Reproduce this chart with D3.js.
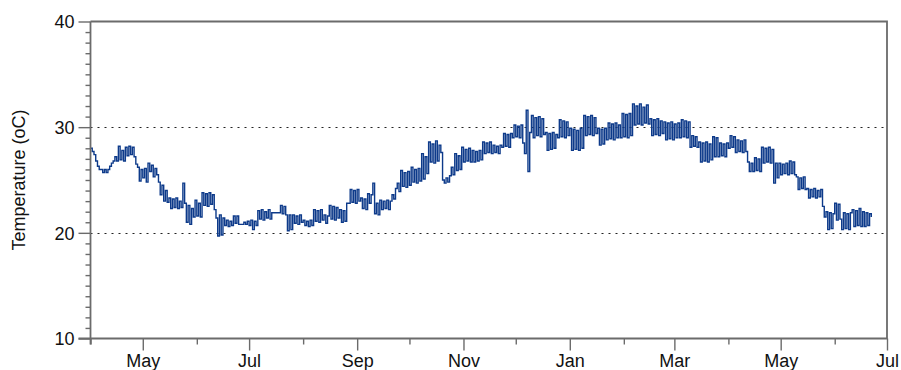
<!DOCTYPE html>
<html>
<head>
<meta charset="utf-8">
<script src="https://cdn.jsdelivr.net/npm/d3@7"></script>
<style>
  html, body { margin: 0; padding: 0; background: #fff; }
  svg { display: block; }
  text { font-family: "Liberation Sans", Arial, Helvetica, sans-serif; fill: #111; }
</style>
</head>
<body>
<svg id="chart" width="901" height="370"></svg>
<script>
// ---- data (daily readings, starting 1 Apr 2011) ----
const startDate = "2011-04-01";
const domainStart = "2011-04-01";
const domainEnd = "2012-07-01";
const temps = [
  // d0
  28.0, 27.7, 27.4, 26.8, 26.3, 26.0, 26.0, 25.7, 26.0, 25.7,
  // d10
  26.0, 26.3, 26.6, 26.8, 27.2, 26.8, 28.2, 26.9, 27.8, 26.8,
  // d20
  28.1, 27.3, 28.2, 27.4, 28.1, 27.2, 26.5, 26.2, 24.9, 26.0,
  // d30
  25.2, 26.1, 24.8, 26.6, 25.8, 26.4, 25.3, 26.1, 25.5, 24.8,
  // d40
  23.6, 24.5, 23.0, 24.0, 22.9, 23.3, 22.3, 23.2, 22.4, 23.3,
  // d50
  22.3, 23.0, 22.4, 24.7, 22.8, 21.0, 22.6, 20.8, 22.3, 21.5,
  // d60
  23.1, 21.6, 22.8, 21.5, 23.8, 22.6, 23.7, 22.5, 23.8, 22.7,
  // d70
  23.6, 22.2, 21.4, 19.7, 21.7, 19.8, 21.4, 20.7, 21.2, 20.6,
  // d80
  21.1, 20.7, 21.6, 20.9, 21.6, 20.8, 20.8, 20.8, 21.0, 20.8,
  // d90
  21.1, 20.7, 21.2, 20.3, 21.1, 20.7, 22.1, 21.3, 22.2, 21.2,
  // d100
  22.0, 21.4, 22.2, 21.3, 21.9, 21.9, 21.9, 21.9, 21.9, 22.6,
  // d110
  21.8, 22.5, 21.7, 20.2, 21.7, 20.3, 21.7, 20.9, 21.6, 20.8,
  // d120
  21.7, 21.0, 21.2, 20.7, 21.1, 20.6, 21.2, 20.7, 22.2, 21.1,
  // d130
  22.1, 21.0, 22.2, 21.2, 21.7, 20.9, 21.6, 22.6, 21.3, 22.5,
  // d140
  21.2, 22.4, 21.4, 22.2, 21.0, 22.1, 21.1, 22.8, 22.8, 24.1,
  // d150
  22.9, 24.0, 22.8, 24.1, 23.0, 23.3, 22.3, 23.2, 22.2, 23.7,
  // d160
  22.8, 23.6, 24.7, 21.8, 22.8, 21.7, 23.1, 22.2, 23.0, 22.3,
  // d170
  23.1, 22.2, 23.0, 23.6, 23.2, 24.2, 24.7, 23.9, 25.9, 24.4,
  // d180
  25.7, 24.3, 25.8, 24.5, 26.2, 24.8, 26.0, 24.7, 26.1, 24.9,
  // d190
  27.5, 25.1, 27.2, 25.6, 28.6, 26.7, 28.4, 26.6, 28.7, 26.8,
  // d200
  28.3, 27.6, 25.0, 24.7, 25.2, 24.8, 25.4, 26.2, 25.5, 27.5,
  // d210
  25.9, 27.3, 26.0, 28.1, 26.7, 27.9, 26.8, 28.0, 26.7, 27.8,
  // d220
  26.7, 27.7, 26.8, 27.8, 26.9, 28.6, 27.5, 28.5, 27.6, 28.6,
  // d230
  27.5, 28.3, 27.6, 28.2, 27.5, 28.3, 28.1, 29.4, 28.2, 29.3,
  // d240
  28.1, 29.4, 29.0, 30.2, 29.1, 30.1, 29.0, 30.2, 28.5, 27.5,
  // d250
  31.6, 25.8, 29.5, 31.1, 29.0, 30.9, 29.2, 31.0, 29.1, 30.8,
  // d260
  29.3, 29.5, 27.8, 29.4, 27.9, 29.5, 28.0, 29.3, 29.0, 30.7,
  // d270
  29.1, 30.6, 29.0, 30.5, 29.2, 29.9, 27.8, 29.8, 27.9, 29.7,
  // d280
  27.8, 29.9, 28.0, 31.1, 29.2, 31.0, 29.3, 31.1, 29.2, 30.9,
  // d290
  29.4, 29.9, 28.3, 29.8, 28.4, 29.9, 28.8, 30.4, 28.9, 30.3,
  // d300
  28.8, 30.4, 29.0, 30.2, 29.0, 31.3, 29.1, 31.2, 29.0, 31.3,
  // d310
  29.2, 32.2, 30.2, 32.0, 30.3, 32.2, 30.2, 31.9, 30.4, 32.1,
  // d320
  30.3, 30.8, 29.2, 30.7, 29.3, 30.8, 29.2, 30.6, 29.4, 30.5,
  // d330
  28.8, 30.4, 28.9, 30.5, 28.8, 30.3, 29.0, 30.4, 29.0, 30.7,
  // d340
  29.1, 30.6, 29.0, 30.5, 28.1, 29.2, 28.2, 29.1, 28.1, 28.6,
  // d350
  26.7, 28.5, 26.8, 28.6, 26.7, 28.4, 26.9, 29.1, 27.2, 29.0,
  // d360
  27.2, 28.5, 27.3, 28.4, 27.2, 28.5, 28.0, 29.2, 28.1, 29.1,
  // d370
  27.6, 28.8, 27.7, 28.7, 27.6, 28.8, 27.7, 26.7, 25.8, 26.6,
  // d380
  25.8, 27.1, 25.9, 27.0, 25.8, 28.1, 26.6, 28.0, 26.7, 28.1,
  // d390
  26.6, 27.9, 24.7, 26.6, 25.2, 26.6, 25.5, 26.5, 25.6, 26.6,
  // d400
  25.5, 26.8, 25.6, 26.7, 25.5, 25.3, 24.1, 25.2, 24.2, 25.3,
  // d410
  24.1, 24.2, 23.3, 24.1, 23.4, 24.2, 23.3, 24.0, 23.4, 24.1,
  // d420
  22.5, 21.5, 22.0, 20.3, 21.9, 20.4, 21.8, 22.8, 21.2, 22.7,
  // d430
  21.3, 20.3, 21.9, 20.4, 21.8, 20.3, 21.9, 22.2, 20.6, 22.1,
  // d440
  20.7, 22.3, 20.6, 22.0, 20.6, 21.9, 20.7, 21.8, 21.5
];
const yTicksMajor = [10, 20, 30, 40];
const yGridValues = [20, 30];
const xLabelMonths = ["2011-05-01", "2011-07-01", "2011-09-01", "2011-11-01",
                      "2012-01-01", "2012-03-01", "2012-05-01", "2012-07-01"];
const xMinorMonths = ["2011-04-01", "2011-06-01", "2011-08-01", "2011-10-01",
                      "2011-12-01", "2012-02-01", "2012-04-01", "2012-06-01"];
const yLabel = "Temperature (oC)";

// ---- drawing ----
const svg = d3.select("#chart");
const L = 90.5, R = 887, T = 21.5, B = 338.5;
const parse = d3.utcParse("%Y-%m-%d");
const t0 = parse(startDate);

const x = d3.scaleUtc().domain([parse(domainStart), parse(domainEnd)]).range([L, R]);
const y = d3.scaleLinear().domain([10, 40]).range([B, T]);

const axisColor = "#6b6b6b";

// dotted reference lines
svg.append("g").selectAll("line").data(yGridValues).join("line")
  .attr("x1", L).attr("x2", R)
  .attr("y1", d => Math.round(y(d)) + 0.5).attr("y2", d => Math.round(y(d)) + 0.5)
  .attr("stroke", "#222").attr("stroke-width", 1.2)
  .attr("stroke-dasharray", "2,5");

// series
const pts = temps.map((v, i) => ({ date: d3.utcDay.offset(t0, i), v }));
const line = d3.line().x(d => x(d.date)).y(d => y(d.v)).curve(d3.curveStepAfter);
svg.append("path").datum(pts)
  .attr("d", line)
  .attr("fill", "none")
  .attr("stroke", "#0d3a8a")
  .attr("stroke-width", 1.4)
  .attr("stroke-linejoin", "miter");

// y axis
const yMinor = d3.range(10, 41, 1);
const gy = svg.append("g").attr("transform", `translate(${L},0)`);
gy.call(d3.axisLeft(y).tickValues(yMinor).tickSize(5).tickFormat(""));
gy.call(g => g.selectAll(".tick").filter(d => yTicksMajor.includes(d)).select("line").attr("x2", -12));
gy.selectAll(".domain").remove();
gy.selectAll("line").attr("stroke", axisColor).attr("stroke-width", 1.4);
gy.selectAll(".tick").filter(d => yTicksMajor.includes(d)).append("text")
  .attr("x", -16).attr("dy", "0.35em")
  .attr("text-anchor", "end")
  .attr("font-size", 18)
  .text(d => d);

// x axis
const gx = svg.append("g").attr("transform", `translate(0,${B})`);
const majorDates = xLabelMonths.map(parse);
const minorDates = xMinorMonths.map(parse);
gx.call(d3.axisBottom(x).tickValues(minorDates).tickSize(6).tickFormat(""));
gx.selectAll(".domain").remove();
const gx2 = svg.append("g").attr("transform", `translate(0,${B})`);
gx2.call(d3.axisBottom(x).tickValues(majorDates).tickSize(12).tickFormat(d3.utcFormat("%b")));
gx2.selectAll(".domain").remove();
gx2.selectAll("text").attr("font-size", 18).attr("font-family", null).attr("y", 16).attr("dy", "0.71em");
svg.selectAll(".tick line").attr("stroke", axisColor).attr("stroke-width", 1.4);
svg.selectAll("g text").attr("fill", "#111");

// frame
svg.append("path")
  .attr("d", `M${L},${T}H${R}V${B}H${L - 12}M${L},${B + 6}V${T}`)
  .attr("fill", "none").attr("stroke", axisColor).attr("stroke-width", 1.8);

// y-axis title
svg.append("text")
  .attr("transform", `translate(25,${(T + B) / 2}) rotate(-90)`)
  .attr("text-anchor", "middle")
  .attr("font-size", 18)
  .text(yLabel);
</script>
</body>
</html>
